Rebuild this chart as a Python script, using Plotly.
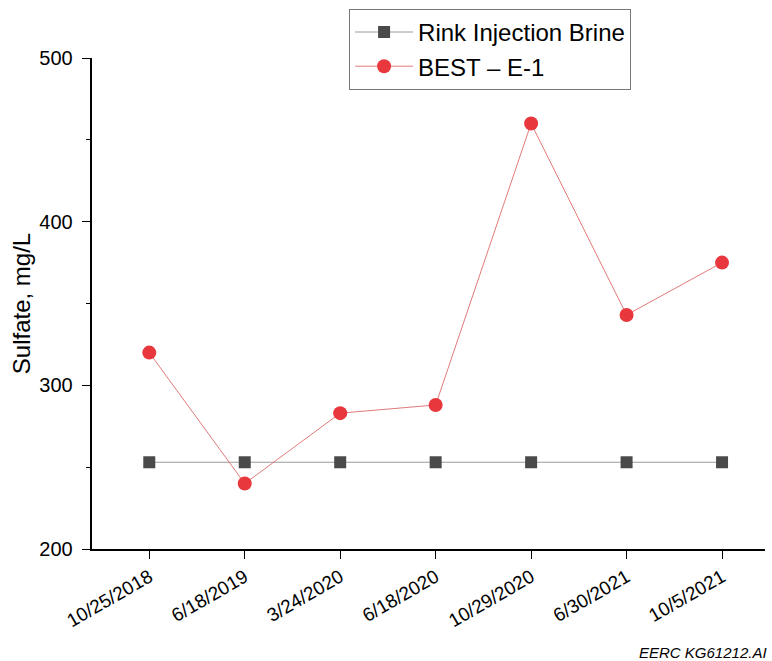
import plotly.graph_objects as go

dates = ["10/25/2018", "6/18/2019", "3/24/2020", "6/18/2020", "10/29/2020", "6/30/2021", "10/5/2021"]
rink_brine = [253, 253, 253, 253, 253, 253, 253]
best_e1 = [320, 240, 283, 288, 460, 343, 375]

xi = list(range(len(dates)))

fig = go.Figure()
fig.add_trace(go.Scatter(
    x=xi, y=rink_brine, mode="lines+markers", name="Rink Injection Brine",
    line=dict(color="#9a9a9a", width=1),
    marker=dict(symbol="square", size=12, color="#4a4a4a"),
))
fig.add_trace(go.Scatter(
    x=xi, y=best_e1, mode="lines+markers", name="BEST \u2013 E-1",
    line=dict(color="#e07b7b", width=1),
    marker=dict(symbol="circle", size=14, color="#e8373d"),
))

font_family = "Liberation Sans, Arial, sans-serif"
fig.update_layout(
    width=772, height=661,
    margin=dict(l=92, r=7, t=58, b=112),
    plot_bgcolor="white", paper_bgcolor="white",
    font=dict(family=font_family, color="black"),
    showlegend=True,
    legend=dict(
        x=0.382, y=1.1, xanchor="left", yanchor="top",
        bgcolor="white", bordercolor="#777777", borderwidth=1,
        font=dict(size=24, family=font_family),
        tracegroupgap=0, itemwidth=58,
    ),
    xaxis=dict(
        range=[-0.6, 6.45],
        tickmode="array", tickvals=xi, ticktext=dates,
        tickangle=-30, tickfont=dict(size=19),
        showline=True, linecolor="black", linewidth=1.5,
        ticks="outside", ticklen=8, tickcolor="black",
        showgrid=False, zeroline=False, automargin=False,
    ),
    yaxis=dict(
        range=[200, 500],
        tickmode="linear", tick0=200, dtick=100,
        tickfont=dict(size=20), ticksuffix="\u00a0",
        title=dict(text="Sulfate, mg/L", font=dict(size=24), standoff=2),
        showline=True, linecolor="black", linewidth=1.5,
        ticks="outside", ticklen=8, tickcolor="black",
        minor=dict(ticks="outside", ticklen=4, dtick=50, tickcolor="black", showgrid=False),
        showgrid=False, zeroline=False, automargin=False,
    ),
)

fig.add_annotation(
    text="<i>EERC KG61212.AI</i>", xref="paper", yref="paper",
    x=1.006, y=-0.21, xanchor="right", yanchor="middle",
    showarrow=False, font=dict(size=15, family=font_family),
)

fig.write_html("out.html")
